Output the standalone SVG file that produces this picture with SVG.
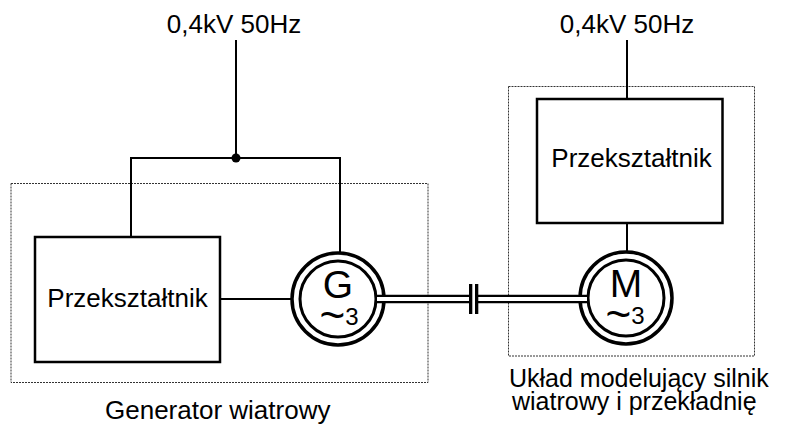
<svg xmlns="http://www.w3.org/2000/svg" width="788" height="425" viewBox="0 0 788 425">
<style>
text{font-family:"Liberation Sans",Arial,sans-serif;fill:#000}
.lbl{font-size:26px}
.lbl2{font-size:25px}
.wire{stroke:#000;stroke-width:2;fill:none}
.box{stroke:#000;stroke-width:2.5;fill:#fff}
.dot{stroke:#333;stroke-width:1;fill:none;stroke-dasharray:2 1}
.ring{stroke:#000;stroke-width:3.5;fill:#fff}
.ring2{stroke:#000;stroke-width:3;fill:none}
</style>
<rect width="788" height="425" fill="#fff"/>
<g id="frames">
<rect class="dot" x="11" y="183.5" width="417" height="199"/>
<rect class="dot" x="508.5" y="86.5" width="246" height="269.5"/>
</g>
<g id="connectors">
<polyline class="wire" points="236,40 236,158"/>
<polyline class="wire" points="131,237 131,158 340,158 340,253"/>
<circle cx="236" cy="158" r="4.5" fill="#000"/>
<line class="wire" x1="220" y1="299" x2="292" y2="299"/>
<line class="wire" x1="627" y1="40" x2="627" y2="99"/>
<line class="wire" x1="627" y1="223" x2="627" y2="251"/>
</g>
<g id="conv-left">
<rect class="box" x="35" y="237" width="185" height="125"/>
<text class="lbl" x="127.5" y="307" text-anchor="middle">Przekształtnik</text>
</g>
<g id="conv-right">
<rect class="box" x="537" y="99" width="185.5" height="124"/>
<text class="lbl" x="631.5" y="167.3" text-anchor="middle">Przekształtnik</text>
</g>
<g id="generator">
<circle class="ring" cx="338" cy="299" r="46"/>
<circle class="ring2" cx="338" cy="299" r="38"/>
<text text-anchor="middle"><tspan x="338" y="298" font-size="39">G</tspan><tspan x="339" y="330" font-size="44">~</tspan><tspan dy="-5" font-size="24">3</tspan></text>
</g>
<g id="motor">
<circle class="ring" cx="626" cy="298" r="46"/>
<circle class="ring2" cx="626" cy="298" r="38"/>
<text text-anchor="middle"><tspan x="626" y="297" font-size="39">M</tspan><tspan x="625" y="329" font-size="44">~</tspan><tspan dy="-5" font-size="24">3</tspan></text>
</g>
<g id="shaft">
<line x1="376" y1="299" x2="588" y2="299" stroke="#000" stroke-width="8.5"/>
<line x1="377" y1="299" x2="587" y2="299" stroke="#fff" stroke-width="4"/>
<rect x="472" y="284" width="3" height="30" fill="#fff"/>
<rect x="469" y="284" width="3.3" height="30" fill="#000"/>
<rect x="475" y="284" width="3.3" height="30" fill="#000"/>
</g>
<g id="labels">
<text class="lbl" x="234" y="33" text-anchor="middle">0,4kV 50Hz</text>
<text class="lbl" x="627" y="33" text-anchor="middle">0,4kV 50Hz</text>
<text class="lbl" x="105" y="419">Generator wiatrowy</text>
<text class="lbl2"><tspan x="509" y="387">Układ modelujący silnik</tspan><tspan x="512" y="410">wiatrowy i przekładnię</tspan></text>
</g>
</svg>
